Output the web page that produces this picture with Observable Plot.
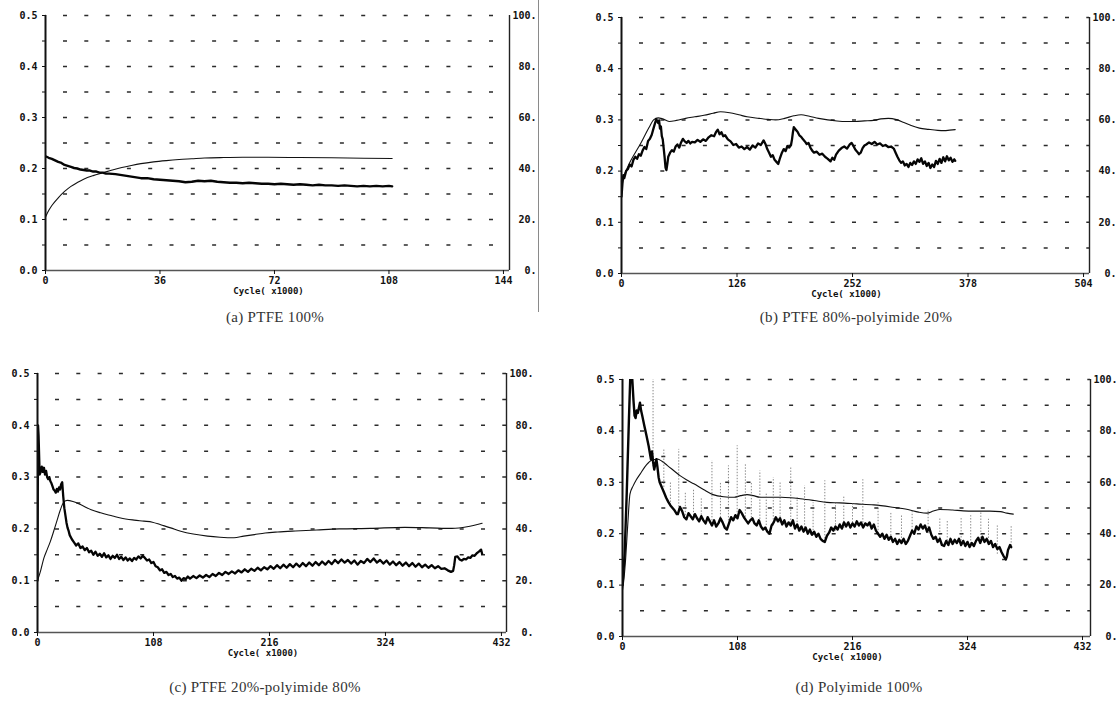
<!DOCTYPE html>
<html>
<head>
<meta charset="utf-8">
<script src="https://cdn.jsdelivr.net/npm/d3@7"></script>
<script src="https://cdn.jsdelivr.net/npm/@observablehq/plot@0.6"></script>
<style>
  body { margin: 0; background: #fff; }
  #root { position: relative; width: 1119px; height: 705px; overflow: hidden; background: #fff; }
  .panel { position: absolute; }
  .cap { position: absolute; font-family: "Liberation Serif", "DejaVu Serif", serif; font-size: 15px; color: #333;
         transform: translateX(-50%); white-space: nowrap; letter-spacing: 0.3px; }
  .scan { position: absolute; left: 538px; top: 0; width: 1px; height: 312px; background: #8a8a8a; }
</style>
</head>
<body>
<div id="root"></div>
<script>
// ---------- shared axis data ----------
const frictionTicks = [0, 0.1, 0.2, 0.3, 0.4, 0.5];
const minorTicks = [0, 0.05, 0.1, 0.15, 0.2, 0.25, 0.3, 0.35, 0.4, 0.45, 0.5];
const gridLevels = [0.05, 0.1, 0.15, 0.2, 0.25, 0.3, 0.35, 0.4, 0.45, 0.5];
const tempLabels = ["0.", "20.", "40.", "60.", "80.", "100."];
const tempToFriction = 0.5 / 100; // right axis 0-100 maps onto 0-0.5
const xLabel = "Cycle( x1000)";
const captions = ["(a) PTFE 100%", "(b) PTFE 80%-polyimide 20%", "(c) PTFE 20%-polyimide 80%", "(d) Polyimide 100%"];

const xTicksA = [0, 36, 72, 108, 144];
const xTicksB = [0, 126, 252, 378, 504];
const xTicksC = [0, 108, 216, 324, 432];
const xTicksD = [0, 108, 216, 324, 432];

// ---------- (a) PTFE 100% ----------
const frictionA = [[0,0.224],[1,0.221],[2,0.219],[3,0.216],[4,0.213],[5,0.211],[6,0.207],[7,0.205],[8,0.203],[9,0.201],[10,0.200],[11,0.198],[12,0.197],[13,0.196],[14,0.196],[15,0.194],[16,0.194],[17,0.192],[18,0.192],[19,0.190],[20,0.190],[22,0.189],[24,0.187],[26,0.185],[28,0.183],[30,0.181],[32,0.181],[34,0.179],[36,0.178],[38,0.177],[40,0.176],[42,0.175],[44,0.173],[46,0.174],[48,0.176],[50,0.175],[52,0.176],[54,0.174],[56,0.173],[58,0.172],[60,0.172],[62,0.171],[64,0.172],[66,0.171],[68,0.170],[70,0.170],[72,0.169],[74,0.170],[76,0.169],[78,0.168],[80,0.169],[82,0.168],[84,0.167],[86,0.168],[88,0.167],[90,0.167],[92,0.166],[94,0.167],[96,0.166],[98,0.165],[100,0.166],[102,0.165],[104,0.166],[106,0.165],[108,0.166],[109,0.165]];
const tempA = [[0,21],[1,23.5],[2,25.5],[4,28.5],[6,31],[8,33],[10,34.5],[12,35.8],[15,37.2],[18,38.3],[21,39.4],[24,40.4],[27,41.2],[30,41.9],[34,42.6],[38,43.1],[42,43.5],[46,43.8],[50,44.1],[56,44.3],[62,44.4],[70,44.4],[80,44.3],[90,44.2],[100,44.0],[109,43.9]];

// ---------- (b) PTFE 80% - polyimide 20% ----------
const frictionB = [[0,0.150],[1,0.175],[2,0.192],[3,0.186],[5,0.200],[7,0.204],[9,0.213],[11,0.209],[13,0.222],[15,0.228],[17,0.224],[19,0.233],[21,0.230],[23,0.240],[25,0.247],[27,0.243],[29,0.259],[31,0.263],[33,0.271],[35,0.284],[37,0.296],[38,0.301],[40,0.294],[41,0.299],[42,0.283],[43,0.287],[44,0.268],[45,0.262],[46,0.245],[47,0.228],[48,0.207],[49,0.202],[50,0.214],[51,0.228],[53,0.236],[55,0.241],[57,0.238],[59,0.248],[61,0.252],[63,0.246],[65,0.256],[67,0.263],[69,0.258],[71,0.255],[73,0.259],[75,0.254],[77,0.257],[80,0.256],[83,0.261],[86,0.257],[89,0.262],[92,0.259],[95,0.266],[98,0.270],[101,0.268],[103,0.276],[105,0.281],[107,0.272],[109,0.276],[111,0.268],[113,0.270],[116,0.262],[119,0.258],[122,0.251],[125,0.253],[128,0.246],[131,0.248],[134,0.243],[137,0.247],[140,0.242],[143,0.250],[146,0.246],[149,0.254],[152,0.251],[155,0.260],[157,0.253],[159,0.243],[161,0.236],[163,0.228],[165,0.231],[167,0.222],[169,0.218],[171,0.214],[173,0.226],[175,0.236],[177,0.243],[179,0.239],[181,0.249],[183,0.246],[185,0.252],[186,0.262],[187,0.276],[188,0.286],[190,0.281],[192,0.277],[194,0.270],[196,0.267],[198,0.262],[200,0.258],[202,0.253],[204,0.255],[206,0.246],[208,0.240],[210,0.236],[213,0.238],[216,0.232],[219,0.234],[222,0.228],[225,0.224],[228,0.219],[230,0.226],[232,0.222],[234,0.232],[237,0.240],[240,0.245],[243,0.248],[246,0.244],[249,0.252],[251,0.255],[253,0.249],[255,0.242],[257,0.238],[259,0.233],[261,0.236],[263,0.245],[265,0.250],[267,0.252],[270,0.256],[273,0.253],[276,0.257],[279,0.252],[282,0.254],[285,0.249],[288,0.251],[291,0.247],[294,0.248],[297,0.244],[299,0.236],[301,0.228],[303,0.221],[305,0.216],[307,0.219],[309,0.211],[311,0.214],[313,0.208],[315,0.216],[317,0.212],[319,0.219],[321,0.214],[323,0.223],[325,0.218],[327,0.225],[329,0.214],[331,0.219],[333,0.210],[335,0.216],[337,0.206],[339,0.213],[341,0.208],[343,0.220],[345,0.214],[347,0.224],[349,0.216],[351,0.227],[353,0.219],[355,0.229],[357,0.221],[359,0.226],[361,0.218],[363,0.223],[364,0.220]];
const tempB = [[0,36],[3,38.5],[6,41],[10,44],[15,47.2],[20,50.2],[25,53.6],[30,57],[35,60],[40,60.8],[45,60.4],[52,59.4],[60,59.8],[70,60.6],[80,61.2],[90,61.8],[100,62.6],[108,63.2],[118,62.8],[128,62],[137,61.2],[150,60.6],[160,60.2],[168,60],[178,60.6],[188,61.6],[196,62],[205,61.4],[215,60.6],[225,60],[235,59.6],[245,59.4],[255,59.4],[265,59.6],[275,59.8],[283,60.4],[291,60.6],[300,60.1],[308,59],[316,57.8],[325,56.8],[335,56.3],[345,55.9],[352,55.8],[358,56],[364,56.2]];

// ---------- (c) PTFE 20% - polyimide 80% ----------
const frictionC = [[0,0.100],[0.5,0.400],[1,0.380],[2,0.305],[3,0.310],[4,0.320],[5,0.310],[6,0.318],[7,0.305],[8,0.312],[9,0.300],[10,0.296],[11,0.300],[12,0.292],[13,0.288],[14,0.282],[15,0.276],[16,0.274],[17,0.270],[18,0.277],[19,0.272],[20,0.280],[21,0.276],[22,0.286],[23,0.290],[24,0.262],[25,0.240],[26,0.226],[27,0.212],[28,0.202],[29,0.196],[30,0.188],[32,0.180],[34,0.174],[36,0.168],[38,0.172],[40,0.163],[42,0.166],[44,0.159],[46,0.163],[48,0.155],[50,0.158],[52,0.150],[54,0.156],[56,0.148],[58,0.152],[60,0.146],[62,0.153],[64,0.145],[66,0.149],[68,0.142],[70,0.148],[72,0.144],[74,0.150],[76,0.142],[78,0.146],[80,0.140],[82,0.145],[84,0.139],[86,0.143],[88,0.138],[90,0.144],[92,0.141],[94,0.147],[96,0.143],[98,0.148],[100,0.144],[102,0.139],[104,0.141],[106,0.134],[108,0.136],[110,0.128],[112,0.126],[114,0.120],[116,0.122],[118,0.115],[120,0.117],[122,0.111],[124,0.113],[126,0.107],[128,0.109],[130,0.104],[132,0.106],[134,0.100],[136,0.105],[138,0.103],[140,0.108],[142,0.104],[145,0.109],[148,0.105],[151,0.110],[154,0.106],[157,0.111],[160,0.107],[163,0.113],[166,0.109],[169,0.115],[172,0.111],[175,0.117],[178,0.113],[181,0.118],[184,0.114],[187,0.120],[190,0.116],[193,0.122],[196,0.117],[199,0.123],[202,0.119],[205,0.125],[208,0.120],[211,0.126],[214,0.122],[217,0.128],[220,0.123],[223,0.130],[226,0.124],[229,0.131],[232,0.125],[235,0.132],[238,0.126],[241,0.133],[244,0.127],[247,0.134],[250,0.128],[253,0.135],[256,0.129],[259,0.136],[262,0.130],[265,0.137],[268,0.131],[271,0.138],[274,0.132],[277,0.140],[280,0.134],[283,0.141],[286,0.135],[289,0.140],[292,0.133],[295,0.139],[298,0.131],[301,0.138],[304,0.134],[307,0.142],[310,0.136],[313,0.143],[316,0.135],[319,0.140],[322,0.133],[325,0.139],[328,0.131],[331,0.137],[334,0.130],[337,0.136],[340,0.129],[343,0.135],[346,0.128],[349,0.134],[352,0.127],[355,0.133],[358,0.126],[361,0.131],[364,0.125],[367,0.130],[370,0.124],[373,0.128],[376,0.123],[379,0.124],[382,0.120],[385,0.117],[387,0.119],[388,0.130],[389,0.146],[391,0.147],[393,0.141],[395,0.139],[397,0.142],[399,0.141],[401,0.145],[403,0.144],[405,0.149],[407,0.148],[409,0.153],[411,0.156],[413,0.160],[414,0.152]];
const tempC = [[0,20],[3,24],[6,28.8],[9,32],[12,35.2],[15,39],[18,43],[21,47],[24.6,50.4],[27.7,51],[33,50.6],[40,49.4],[50,47.4],[58.8,46.2],[70,45],[77.4,44.2],[90,43.4],[99,43],[107,42.6],[114.7,41.6],[124,40.4],[133.4,39.1],[145,38],[158.3,37.2],[170,36.8],[183,36.6],[192,37.2],[202,37.8],[212,38.4],[223.6,38.8],[240,39.2],[260,39.6],[281,40],[310,40.2],[342,40.6],[365,40.4],[386,40.2],[400,40.8],[414,42.2]];

// ---------- (d) Polyimide 100% ----------
const frictionD = [[0,0.100],[2,0.160],[4,0.280],[6,0.420],[7.7,0.530],[9.2,0.500],[10.3,0.460],[11.3,0.430],[12.3,0.425],[13.3,0.440],[14.4,0.435],[15.4,0.445],[16.4,0.455],[17.4,0.440],[18.5,0.430],[20.5,0.410],[22.6,0.390],[24.6,0.370],[26.7,0.345],[27.7,0.360],[28.7,0.340],[29.8,0.325],[30.8,0.335],[31.8,0.345],[32.8,0.330],[33.9,0.310],[34.9,0.300],[37,0.290],[39,0.280],[41,0.270],[43,0.262],[45,0.255],[47,0.250],[49,0.245],[51,0.238],[52,0.238],[54,0.252],[56,0.244],[58,0.232],[60,0.228],[62,0.240],[64,0.234],[66,0.228],[68,0.238],[70,0.230],[72,0.224],[74,0.234],[76,0.226],[78,0.220],[80,0.232],[82,0.224],[84,0.216],[86,0.226],[88,0.214],[90,0.220],[92,0.230],[94,0.222],[96,0.212],[98,0.208],[100,0.220],[102,0.232],[104,0.226],[106,0.236],[108,0.230],[110,0.246],[112,0.240],[114,0.232],[116,0.226],[118,0.220],[120,0.226],[122,0.230],[124,0.220],[126,0.216],[128,0.226],[130,0.214],[132,0.208],[134,0.212],[136,0.204],[138,0.200],[140,0.216],[142,0.222],[144,0.232],[146,0.224],[148,0.230],[150,0.218],[152,0.226],[154,0.214],[156,0.222],[158,0.216],[160,0.226],[162,0.210],[164,0.218],[166,0.206],[168,0.214],[170,0.204],[172,0.212],[174,0.200],[176,0.208],[178,0.198],[180,0.204],[182,0.194],[184,0.200],[186,0.190],[188,0.186],[190,0.184],[192,0.196],[194,0.202],[196,0.212],[198,0.206],[200,0.214],[202,0.208],[204,0.218],[206,0.210],[208,0.222],[210,0.214],[212,0.222],[214,0.212],[216,0.220],[218,0.214],[220,0.224],[222,0.216],[224,0.222],[226,0.212],[228,0.220],[230,0.216],[232,0.222],[234,0.210],[236,0.218],[238,0.206],[240,0.200],[242,0.194],[244,0.200],[246,0.190],[248,0.198],[250,0.188],[252,0.194],[254,0.184],[256,0.190],[258,0.180],[260,0.188],[262,0.182],[264,0.190],[266,0.180],[268,0.186],[270,0.196],[272,0.206],[274,0.200],[276,0.214],[278,0.208],[280,0.218],[282,0.210],[284,0.216],[286,0.204],[288,0.212],[290,0.198],[292,0.190],[294,0.194],[296,0.184],[298,0.190],[300,0.178],[302,0.176],[304,0.186],[306,0.178],[308,0.190],[310,0.180],[312,0.188],[314,0.182],[316,0.190],[318,0.178],[320,0.186],[322,0.176],[324,0.184],[326,0.174],[328,0.182],[330,0.176],[332,0.186],[334,0.192],[336,0.182],[338,0.194],[340,0.184],[342,0.190],[344,0.180],[346,0.186],[348,0.174],[350,0.180],[352,0.170],[354,0.174],[356,0.164],[358,0.156],[360,0.150],[361,0.156],[362,0.168],[364,0.178],[365,0.174]];
// short dotted friction spikes in (d): [cycle, bottom, top]
const spikesD = [[28.7,0.33,0.5],[38.8,0.29,0.364],[45,0.255,0.30],[52.8,0.24,0.364],[59,0.235,0.28],[66.7,0.235,0.286],[74,0.23,0.27],[84,0.225,0.342],[92,0.225,0.30],[99.5,0.225,0.332],[107.7,0.235,0.371],[115.4,0.232,0.335],[121,0.225,0.30],[129,0.222,0.322],[135,0.21,0.28],[141.6,0.215,0.309],[148,0.22,0.30],[158,0.22,0.329],[164,0.21,0.27],[171,0.205,0.293],[179,0.2,0.26],[190,0.19,0.303],[200,0.205,0.26],[207.8,0.21,0.273],[216,0.215,0.26],[225.7,0.215,0.305],[240,0.2,0.26],[252,0.19,0.24],[262,0.185,0.235],[272,0.2,0.245],[287,0.2,0.247],[298,0.185,0.23],[305,0.18,0.225],[318,0.18,0.23],[327,0.18,0.235],[336.5,0.185,0.241],[343.7,0.185,0.228],[352,0.16,0.215],[365,0.17,0.215]];
const tempD = [[0,18],[1.5,23],[3,30.6],[5,44],[7,55.4],[10,58.6],[13,61],[16.5,63.2],[21,66],[26.5,68.4],[30,68.9],[33,69],[37,68.2],[42,66.6],[48,64.6],[54,62.6],[60,61],[67,59.4],[76,57.2],[85,55.2],[95,54.4],[105,54.2],[111,54.8],[117,55.2],[123,54.8],[129,54.2],[139,54.2],[149,54.2],[158,54],[167,53.6],[180,52.9],[192,52.2],[204,52],[220,51.6],[236,51.2],[252,50.4],[268,49.4],[278,48.4],[286,48],[292,48.8],[298,49.4],[310,49.2],[320,48.9],[330,48.8],[345,48.8],[355,48.6],[361,48],[367,47.6]];

// ---------- drawing ----------
const root = document.getElementById("root");

function makePanel(p) {
  const marks = [
    Plot.ruleY(gridLevels, {y: d => d, stroke: "#2b2b2b", strokeWidth: 1.5,
      strokeDasharray: "4,17.3", strokeDashoffset: 3.3}),
    Plot.ruleY([0], {stroke: "#555", strokeWidth: 1.6}),
    Plot.ruleX([p.xMax], {stroke: "#222", strokeWidth: 1.4}),
    Plot.axisY({ticks: minorTicks, tickSize: 3, tickFormat: () => "", label: null}),
    Plot.axisY({ticks: frictionTicks, tickSize: 0, tickPadding: 8, tickFormat: d => d.toFixed(1), label: null}),
    Plot.axisX({ticks: p.xTicks, tickSize: 4, tickPadding: 2, tickFormat: d => String(d), label: null}),
    Plot.text([xLabel], {text: d => d, frameAnchor: "bottom", dy: 23, dx: -9, fontSize: 9}),
    Plot.text(frictionTicks, {y: d => d, text: (d, i) => tempLabels[i], frameAnchor: "right", dx: 27, textAnchor: "end"}),
    Plot.line(p.temp, {x: d => d[0], y: d => d[1] * tempToFriction, stroke: "#111", strokeWidth: 1.1, curve: "monotone-x"}),
  ];
  if (p.spikes) {
    marks.push(Plot.ruleX(p.spikes, {x: d => d[0], y1: d => d[1], y2: d => d[2],
      stroke: "#555", strokeWidth: 0.7, strokeDasharray: "1.4,1.6", clip: true}));
  }
  marks.push(Plot.line(p.friction, {x: d => d[0], y: d => d[1], stroke: "#050505",
    strokeWidth: p.fw || 2.2, strokeLinejoin: "round", clip: true}));
  marks.push(Plot.ruleX([0], {stroke: "#111", strokeWidth: 2}));

  const svg = Plot.plot({
    width: p.width, height: p.height,
    marginLeft: p.ml, marginRight: p.mr, marginTop: p.mt, marginBottom: p.mb,
    x: {domain: [0, p.xMax]},
    y: {domain: [0, 0.5]},
    style: {fontFamily: "'DejaVu Sans Mono', monospace", fontWeight: "bold", fontSize: "10px",
            color: "#111", background: "transparent", overflow: "visible"},
    marks
  });
  const wrap = document.createElement("div");
  wrap.className = "panel";
  wrap.style.left = p.left + "px";
  wrap.style.top = p.top + "px";
  wrap.appendChild(svg);
  root.appendChild(wrap);
}

makePanel({left: 0, top: 0, width: 545, height: 300, ml: 45, mr: 36, mt: 15, mb: 30,
  xMax: 145.9, xTicks: xTicksA, friction: frictionA, temp: tempA, fw: 2.4});
makePanel({left: 560, top: 0, width: 559, height: 300, ml: 61, mr: 30, mt: 17, mb: 27,
  xMax: 510.5, xTicks: xTicksB, friction: frictionB, temp: tempB, fw: 2.3});
makePanel({left: 0, top: 345, width: 545, height: 315, ml: 37, mr: 39, mt: 28, mb: 28,
  xMax: 436.7, xTicks: xTicksC, friction: frictionC, temp: tempC, fw: 2.3});
makePanel({left: 560, top: 345, width: 559, height: 315, ml: 62, mr: 29, mt: 34, mb: 24,
  xMax: 439.5, xTicks: xTicksD, friction: frictionD, temp: tempD, spikes: spikesD, fw: 2.4});

const capPos = [[275, 309], [856, 309], [265, 679], [859, 679]];
captions.forEach((c, i) => {
  const d = document.createElement("div");
  d.className = "cap";
  d.style.left = capPos[i][0] + "px";
  d.style.top = capPos[i][1] + "px";
  d.textContent = c;
  root.appendChild(d);
});
const scan = document.createElement("div");
scan.className = "scan";
root.appendChild(scan);
</script>
</body>
</html>
